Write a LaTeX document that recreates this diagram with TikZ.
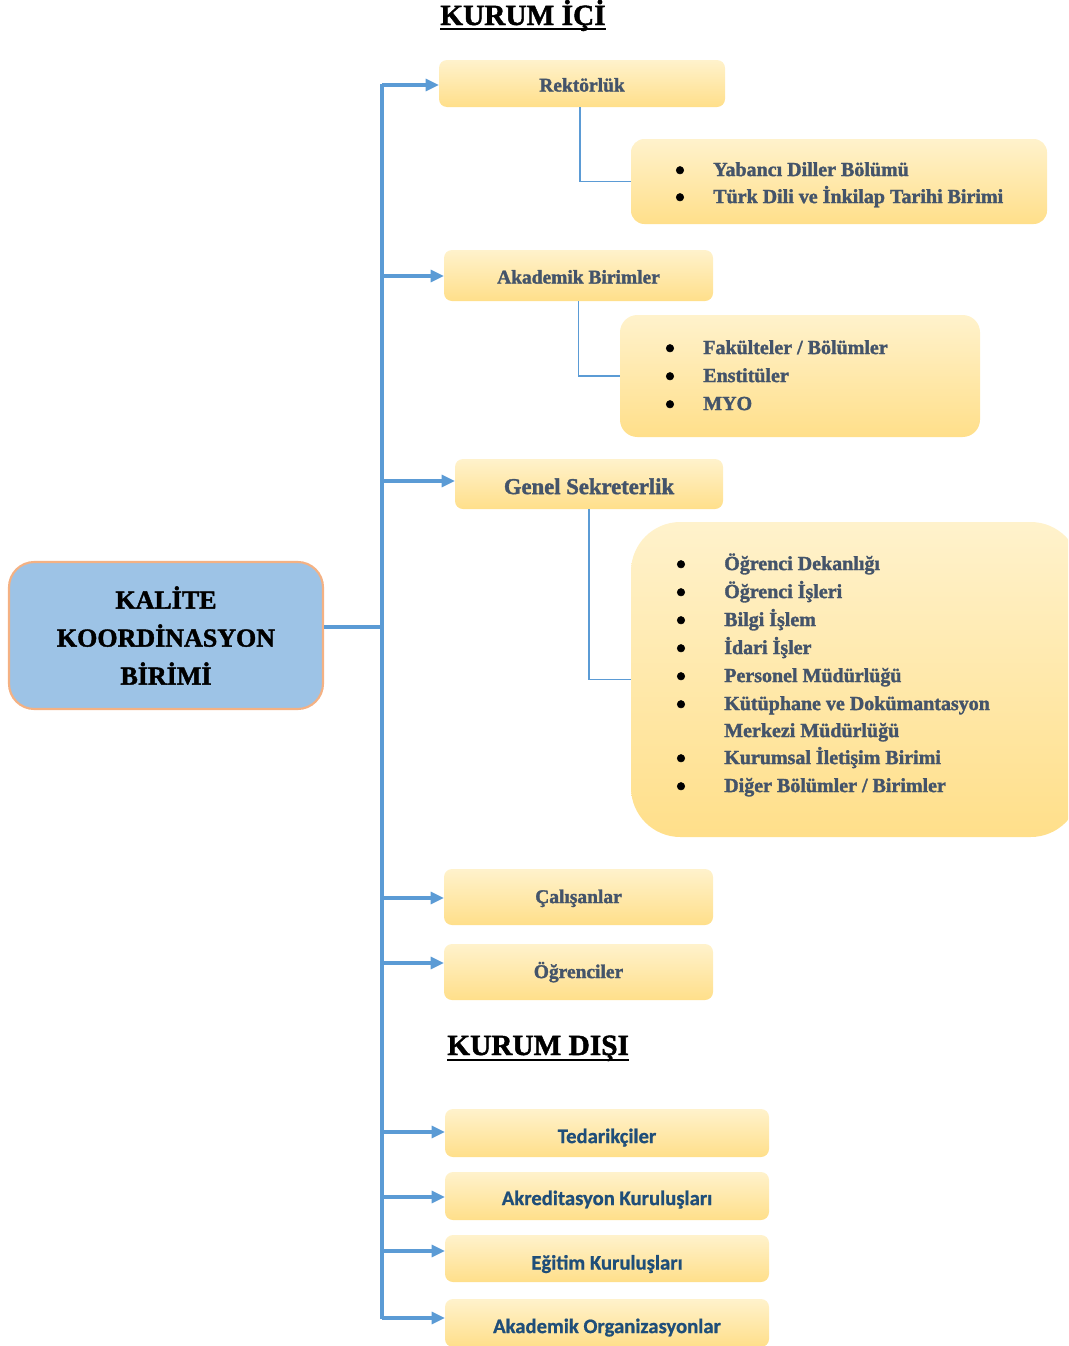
\documentclass[tikz,border=0pt]{standalone}
\usepackage{fontspec}
\setmainfont{Liberation Serif}[BoldFeatures={FakeBold=1.6}]
\newfontfamily\carl{Carlito}[BoldFeatures={FakeBold=0.8}]
\usetikzlibrary{arrows.meta,calc}
\definecolor{tcol}{HTML}{44546A}
\definecolor{bcol}{HTML}{1F4E79}
\definecolor{lineblue}{HTML}{5B9BD5}
\definecolor{gtop}{HTML}{FFF2CC}
\definecolor{gbot}{HTML}{FFDF8A}
\definecolor{kfill}{HTML}{9DC3E6}
\definecolor{kdraw}{HTML}{F4B183}
\begin{document}
\begin{tikzpicture}[x=0.75pt,y=-0.75pt,
  ybox/.style={draw=none, top color=gtop, bottom color=gbot, rounded corners=6pt, inner sep=0pt, outer sep=0pt},
  sz/.style args={#1/#2}{minimum width=#1*0.75pt, minimum height=#2*0.75pt},
  sertxt/.style={font=\bfseries\fontsize{14.6}{17}\selectfont, text=tcol, text height=0.68em, text depth=0.22em},
  sanstxt/.style={font=\carl\bfseries\fontsize{15.5}{18}\selectfont, text=bcol, text height=0.68em, text depth=0.22em},
  itm/.style={anchor=west, inner sep=0pt, yshift=-3pt, font=\bfseries\fontsize{15}{18}\selectfont, text=tcol, text height=0.68em, text depth=0.22em},
  bul/.style={inner sep=0pt, yshift=-3pt, font=\bfseries\fontsize{21}{22}\selectfont, text=black},
  trunk/.style={draw=lineblue, line width=2.3pt},
  arr/.style={draw=lineblue, line width=2.3pt, -{Triangle[length=10pt,width=9pt]}},
  thinl/.style={draw=lineblue, line width=0.9pt},
  ttl/.style={inner sep=0pt, anchor=base west, font=\bfseries\fontsize{22}{26}\selectfont, text=black},
]
\useasboundingbox (0,0) rectangle (1068,1346);
\clip (0,0) rectangle (1068,1346);

% titles
\node[ttl] (t1) at (440,25) {KURUM İÇİ};
\draw[line width=1.6pt] ($(t1.base west)+(0,4)$) -- ($(t1.base east)+(0,4)$);
\node[ttl] (t2) at (447,1055) {KURUM DIŞI};
\draw[line width=1.6pt] ($(t2.base west)+(0,5)$) -- ($(t2.base east)+(0,5)$);

% central box
\node[draw=kdraw, line width=1.6pt, fill=kfill, rounded corners=19pt, sz=314/147,
      align=center, font=\bfseries\fontsize{19.5}{28.5}\selectfont, text=black] (kal) at (166,635.5)
      {KALİTE\\KOORDİNASYON\\BİRİMİ};

% kurum ici boxes
\node[ybox, sz=286/47, sertxt, text height=0.68em+7.5pt] (rek) at (582,83.5) {Rektörlük};
\node[ybox, sz=416/85, rounded corners=10pt] (yab) at (839,181.5) {};
\node[ybox, sz=269/51, sertxt, text height=0.68em+7.5pt] (aka) at (578.5,275.5) {Akademik Birimler};
\node[ybox, sz=360/122, rounded corners=13pt] (fak) at (800,376) {};
\node[ybox, sz=268/50, sertxt, font=\bfseries\fontsize{17}{20}\selectfont, text height=0.68em+10.5pt] (gen) at (589,484) {Genel Sekreterlik};
\node[ybox, sz=449/315, rounded corners=37pt] (big) at (855.5,679.5) {};
\node[ybox, sz=269/56, sertxt, text height=0.68em+4.5pt] (cal) at (578.5,897) {Çalışanlar};
\node[ybox, sz=269/56, sertxt, text height=0.68em+4.5pt] (ogr) at (578.5,972) {Öğrenciler};

% kurum disi boxes
\node[ybox, sz=324/48, sanstxt, text height=0.68em+10.5pt] (ted) at (607,1133) {Tedarikçiler};
\node[ybox, sz=324/48, sanstxt, text height=0.68em+9pt] (akr) at (607,1196) {Akreditasyon Kuruluşları};
\node[ybox, sz=324/47, sanstxt, text height=0.68em+12pt] (egi) at (607,1258.5) {Eğitim Kuruluşları};
\node[ybox, sz=324/48, sanstxt, text height=0.68em+10.5pt] (ako) at (607,1323) {Akademik Organizasyonlar};

% list items
\node[bul] (yb1) at (680,169) {•};
\node[itm] (yt1) at (713,169) {Yabancı Diller Bölümü};
\node[bul] (yb2) at (680,196) {•};
\node[itm] (yt2) at (713,196) {Türk Dili ve İnkilap Tarihi Birimi};

\node[bul] (fb1) at (670,347) {•};
\node[itm] (ft1) at (703,347) {Fakülteler / Bölümler};
\node[bul] (fb2) at (670,375) {•};
\node[itm] (ft2) at (703,375) {Enstitüler};
\node[bul] (fb3) at (670,403) {•};
\node[itm] (ft3) at (703,403) {MYO};

\node[bul] (gb1) at (681,563) {•};
\node[itm] (gt1) at (724,563) {Öğrenci Dekanlığı};
\node[bul] (gb2) at (681,591) {•};
\node[itm] (gt2) at (724,591) {Öğrenci İşleri};
\node[bul] (gb3) at (681,619) {•};
\node[itm] (gt3) at (724,619) {Bilgi İşlem};
\node[bul] (gb4) at (681,647) {•};
\node[itm] (gt4) at (724,647) {İdari İşler};
\node[bul] (gb5) at (681,675) {•};
\node[itm] (gt5) at (724,675) {Personel Müdürlüğü};
\node[bul] (gb6) at (681,703) {•};
\node[itm] (gt6) at (724,703) {Kütüphane ve Dokümantasyon};
\node[itm] (gt6b) at (724,730) {Merkezi Müdürlüğü};
\node[bul] (gb7) at (681,757) {•};
\node[itm] (gt7) at (724,757) {Kurumsal İletişim Birimi};
\node[bul] (gb8) at (681,785) {•};
\node[itm] (gt8) at (724,785) {Diğer Bölümler / Birimler};

% trunk coordinates
\coordinate (ttop) at (382,85);
\coordinate (tbot) at (382,1318);
\coordinate (tk) at (382,627);
\coordinate (a1) at (382,85);
\coordinate (a2) at (382,276);
\coordinate (a3) at (382,481);
\coordinate (a4) at (382,898);
\coordinate (a5) at (382,963);
\coordinate (a6) at (382,1132);
\coordinate (a7) at (382,1197);
\coordinate (a8) at (382,1251);
\coordinate (a9) at (382,1318);

\draw[trunk] (kal.east |- tk) -- (tk);
\draw[trunk] ([yshift=1.1pt]ttop) -- ([yshift=-1.1pt]tbot);
\draw[arr] (a1) -- (a1 -| rek.west);
\draw[arr] (a2) -- (a2 -| aka.west);
\draw[arr] (a3) -- (a3 -| gen.west);
\draw[arr] (a4) -- (a4 -| cal.west);
\draw[arr] (a5) -- (a5 -| ogr.west);
\draw[arr] (a6) -- (a6 -| ted.west);
\draw[arr] (a7) -- (a7 -| akr.west);
\draw[arr] (a8) -- (a8 -| egi.west);
\draw[arr] (a9) -- (a9 -| ako.west);

% thin connectors
\draw[thinl] ([xshift=-1.5pt]rek.south) |- (yab.west);
\draw[thinl] (aka.south) |- (fak.west);
\draw[thinl] (gen.south) |- (big.west);
\end{tikzpicture}
\end{document}
